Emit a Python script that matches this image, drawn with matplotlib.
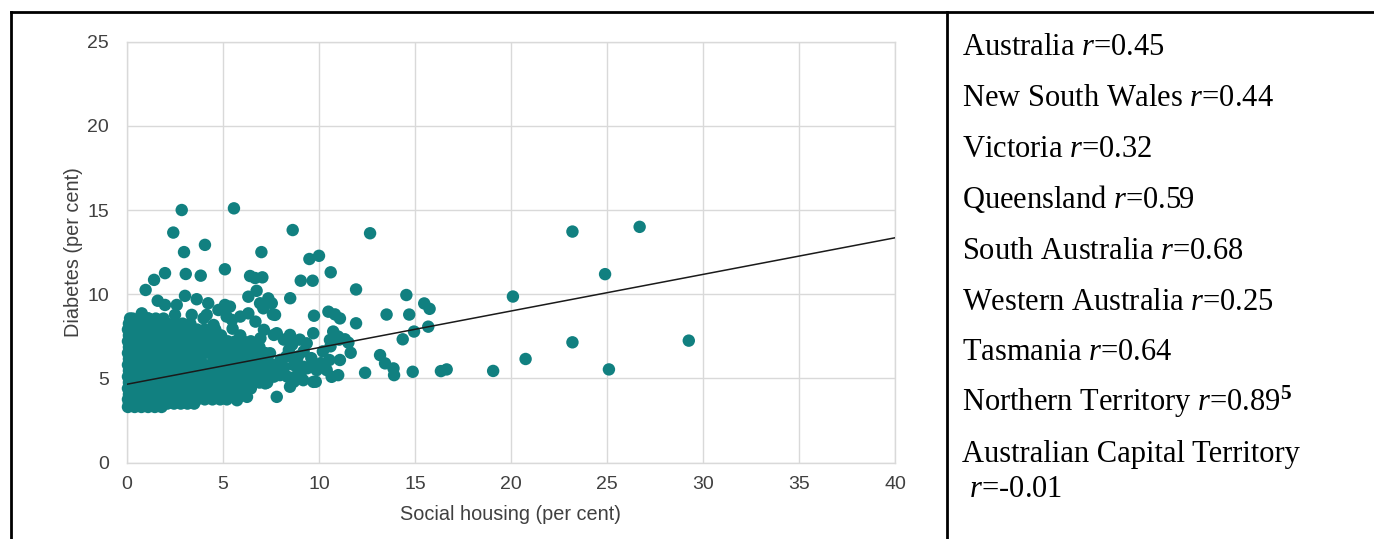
import matplotlib
matplotlib.use("Agg")
import matplotlib.pyplot as plt
from matplotlib.lines import Line2D

# ── Data ─────────────────────────────────────────────────────
# dense core of the cloud: one y level per row, x positions per row
core_row_y = [3.3, 3.5, 3.75, 4.05, 4.4, 4.75, 5.1, 5.45, 5.8, 6.15, 6.5, 6.85, 7.2, 7.55, 7.9, 8.25, 8.55]
core_row_x = [
    [0.05, 0.4, 0.75, 1.1, 1.45, 1.8],
    [0.1, 0.5, 0.9, 1.3, 1.7, 2.1, 2.45, 2.8, 3.15, 3.5],
    [0.05, 0.45, 0.85, 1.25, 1.65, 2.05, 2.45, 2.85, 3.25, 3.65, 4.05, 4.45, 4.85, 5.2],
    [0.1, 0.5, 0.9, 1.3, 1.7, 2.1, 2.5, 2.9, 3.3, 3.7, 4.1, 4.5, 4.9, 5.3, 5.65, 6.0],
    [0.05, 0.45, 0.85, 1.25, 1.65, 2.05, 2.45, 2.85, 3.25, 3.65, 4.05, 4.45, 4.85, 5.25, 5.65, 6.05, 6.45],
    [0.1, 0.5, 0.9, 1.3, 1.7, 2.1, 2.5, 2.9, 3.3, 3.7, 4.1, 4.5, 4.9, 5.3, 5.7, 6.1, 6.5, 6.9, 7.3],
    [0.05, 0.45, 0.85, 1.25, 1.65, 2.05, 2.45, 2.85, 3.25, 3.65, 4.05, 4.45, 4.85, 5.25, 5.65, 6.05, 6.45, 6.85, 7.25, 7.65],
    [0.1, 0.5, 0.9, 1.3, 1.7, 2.1, 2.5, 2.9, 3.3, 3.7, 4.1, 4.5, 4.9, 5.3, 5.7, 6.1, 6.5, 6.9, 7.3, 7.7],
    [0.05, 0.45, 0.85, 1.25, 1.65, 2.05, 2.45, 2.85, 3.25, 3.65, 4.05, 4.45, 4.85, 5.25, 5.65, 6.05, 6.45, 6.85, 7.25, 7.6],
    [0.1, 0.5, 0.9, 1.3, 1.7, 2.1, 2.5, 2.9, 3.3, 3.7, 4.5, 4.9, 5.3, 5.7, 6.1, 6.5, 6.9, 7.3],
    [0.05, 0.45, 0.85, 1.25, 1.65, 2.05, 2.45, 2.85, 3.25, 3.65, 4.05, 4.45, 4.85, 5.25, 5.65, 6.05, 6.45, 6.85, 7.2],
    [0.1, 0.5, 0.9, 1.3, 1.7, 2.1, 2.5, 2.9, 3.3, 3.7, 4.1, 4.5, 4.9, 5.3, 5.7, 6.1, 6.5, 6.9],
    [0.05, 0.45, 0.85, 1.25, 1.65, 2.05, 2.45, 2.85, 3.25, 3.65, 4.05, 4.45, 4.85, 5.25, 5.65, 6.05, 6.45],
    [0.1, 0.5, 0.9, 1.3, 1.7, 2.1, 2.5, 2.9, 3.3, 3.7, 4.1, 4.5, 4.9, 5.9],
    [0.05, 0.45, 0.85, 1.25, 1.65, 2.05, 2.45, 2.85, 3.25, 3.65, 4.05],
    [0.1, 0.5, 0.9, 1.3, 1.7, 2.1, 2.5, 2.9, 3.3],
    [0.3, 0.7, 1.1, 1.5, 1.9],
]

# scattered points around and to the right of the core
scatter_pts = [
    (5.73, 3.7), (6.25, 3.9), (7.8, 3.9), (7.2, 4.7), (8.49, 4.5),
    (7.62, 5.39), (7.97, 5.19), (8.14, 5.69), (8.17, 5.6), (8.35, 5.1),
    (8.69, 4.8), (8.75, 5.09), (9.18, 4.89), (9.71, 4.79), (9.83, 4.8),
    (9.04, 5.3), (9.39, 5.6), (9.74, 5.8), (8.69, 5.79), (8.84, 5.99),
    (9.18, 5.69), (9.53, 5.69), (9.88, 5.49), (8.0, 6.1), (8.3, 6.3),
    (8.9, 6.3), (9.2, 6.6), (9.6, 6.2), (10.1, 5.9), (10.2, 6.6),
    (8.6, 7.0), (9.0, 7.3), (7.45, 6.49), (8.43, 6.69), (8.17, 7.3),
    (7.8, 7.68), (8.49, 7.58), (9.7, 7.68), (9.36, 7.08), (6.95, 7.38),
    (7.65, 7.58), (7.13, 7.88), (6.69, 8.37), (5.9, 8.67), (4.51, 8.17),
    (5.47, 8.47), (3.99, 8.57), (7.6, 8.8), (4.6, 7.9), (5.5, 7.95),
    (10.74, 7.78), (11.0, 7.48), (11.35, 7.32), (11.53, 7.12), (10.57, 7.28),
    (10.6, 6.9), (11.05, 7.3), (11.65, 6.52), (11.09, 6.09), (10.54, 6.09),
    (10.4, 5.49), (10.66, 5.09), (11.0, 5.19), (12.4, 5.33), (13.18, 6.38),
    (13.44, 5.89), (13.88, 5.59), (13.91, 5.19), (14.88, 5.39), (14.36, 7.32),
    (14.95, 7.78), (15.69, 8.07), (13.52, 8.79), (14.7, 8.79), (11.93, 8.27),
    (9.74, 8.72), (10.49, 8.96), (10.83, 8.8), (11.09, 8.56),
    (0.16, 8.56), (0.77, 8.86), (1.11, 8.56), (2.5, 8.77), (3.37, 8.77),
    (4.15, 8.77), (5.19, 8.67), (5.36, 9.26), (6.32, 8.86), (7.1, 9.16),
    (7.71, 8.77), (1.6, 9.61), (1.98, 9.36), (2.59, 9.36), (3.02, 9.9),
    (3.63, 9.7), (4.23, 9.46), (4.76, 9.06), (5.1, 9.36), (6.32, 9.85),
    (6.75, 10.2), (6.93, 9.46), (7.36, 9.75), (7.54, 9.46), (8.5, 9.76),
    (0.97, 10.25),
]

# high values and far right outliers
outlier_pts = [
    (2.85, 15.0), (5.57, 15.1), (2.41, 13.66), (8.63, 13.81), (12.66, 13.62),
    (4.06, 12.93), (2.97, 12.5), (7.0, 12.5), (9.5, 12.09), (10.0, 12.28),
    (10.61, 11.3), (5.1, 11.48), (1.98, 11.25), (1.41, 10.85), (3.06, 11.2),
    (3.84, 11.1), (6.41, 11.08), (6.67, 10.96), (7.05, 11.0), (9.05, 10.8),
    (9.67, 10.8), (11.93, 10.28), (14.55, 9.95), (15.48, 9.45), (15.76, 9.13),
    (20.1, 9.86), (23.2, 13.72), (26.7, 14.0), (24.9, 11.19), (23.2, 7.14),
    (29.26, 7.24), (20.76, 6.15), (19.07, 5.44), (25.1, 5.53), (16.35, 5.43),
    (16.65, 5.53),
]

trend_x = [0, 40]
trend_y = [4.65, 13.35]

states = ["Australia", "New South Wales", "Victoria", "Queensland", "South Australia",
          "Western Australia", "Tasmania", "Northern Territory", "Australian Capital Territory"]
r_values = ["0.45", "0.44", "0.32", "0.59", "0.68", "0.25", "0.64", "0.89", "-0.01"]

TEAL = "#118080"
GRID = "#d9d9d9"
TICK = "#404040"

plt.rcParams["mathtext.fontset"] = "custom"
plt.rcParams["mathtext.rm"] = "Liberation Serif"
plt.rcParams["mathtext.it"] = "Liberation Serif:italic"
plt.rcParams["mathtext.bf"] = "Liberation Serif:bold"

W, H = 1374, 539
fig = plt.figure(figsize=(W / 100, H / 100), dpi=100)
ax = fig.add_axes([127 / W, 1 - 462.5 / H, (895 - 127) / W, (462.5 - 41.7) / H])

xs, ys = [], []
for y, row in zip(core_row_y, core_row_x):
    xs += row
    ys += [y] * len(row)
for x, y in scatter_pts + outlier_pts:
    xs.append(x)
    ys.append(y)

ax.scatter(xs, ys, s=80, color=TEAL, edgecolors="none", zorder=3, clip_on=False)
ax.plot(trend_x, trend_y, color="#1a1a1a", lw=1.1, zorder=4)

ax.set_xlim(0, 40)
ax.set_ylim(0, 25)
ax.set_xticks(range(0, 41, 5))
ax.set_yticks(range(0, 26, 5))
ax.grid(True, color=GRID, lw=1)
ax.set_axisbelow(True)
for sp in ax.spines.values():
    sp.set_color(GRID)
    sp.set_linewidth(1)
ax.tick_params(length=0, labelsize=14, colors=TICK, labelcolor=TICK)
ax.tick_params(axis="x", pad=10)
ax.tick_params(axis="y", pad=13)
for lab in ax.get_xticklabels() + ax.get_yticklabels():
    lab.set_family("Liberation Sans")
ax.set_xlabel("Social housing (per cent)", family="Liberation Sans", fontsize=14.3, color=TICK, labelpad=8)
ax.set_ylabel("Diabetes (per cent)", family="Liberation Sans", fontsize=14.3, color=TICK, labelpad=3)

# table borders
for x0, y0, x1, y1 in [(11, 12, W, 12), (11, 12, 11, H), (947, 12, 947, H)]:
    fig.add_artist(Line2D([x0 / W, x1 / W], [1 - y0 / H, 1 - y1 / H],
                          transform=fig.transFigure, color="black", lw=2.0))

# right panel text
baselines = [55, 106, 157, 208, 259, 310, 360, 411, 462]
for i, (name, r) in enumerate(zip(states, r_values)):
    if i == len(states) - 1:
        fig.text(962 / W, 1 - baselines[i] / H, name, family="Liberation Serif",
                 fontsize=22, va="baseline", ha="left")
        fig.text(962 / W, 1 - 497 / H, " $r$=" + r, family="Liberation Serif",
                 fontsize=22, va="baseline", ha="left")
        continue
    label = name + " $r$=" + r
    if name == "Northern Territory":
        label += r"$^{\mathbf{5}}$"
    fig.text(962 / W, 1 - baselines[i] / H, label, family="Liberation Serif",
             fontsize=22, va="baseline", ha="left")

fig.savefig("out.png", dpi=100)
